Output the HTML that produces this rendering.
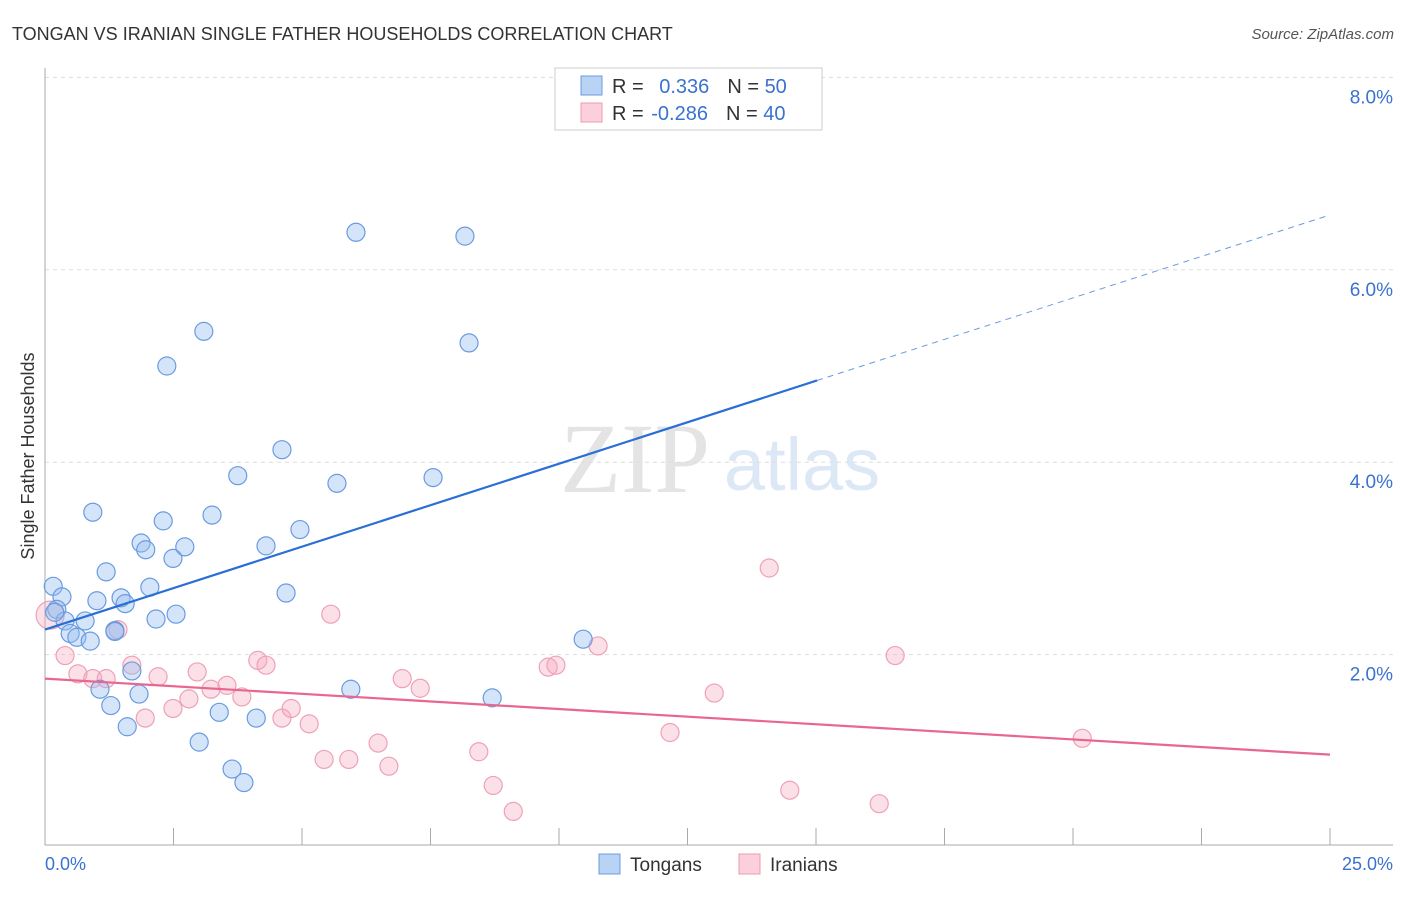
<!DOCTYPE html>
<html><head><meta charset="utf-8"><style>
body{margin:0;background:#fff;font-family:"Liberation Sans",sans-serif;}
</style></head><body>
<svg width="1406" height="892" xmlns="http://www.w3.org/2000/svg" font-family="Liberation Sans, sans-serif">
<text x="12" y="40" font-size="18" fill="#333">TONGAN VS IRANIAN SINGLE FATHER HOUSEHOLDS CORRELATION CHART</text>
<text x="1394" y="39" font-size="15" fill="#555" font-style="italic" text-anchor="end">Source: ZipAtlas.com</text>
<text x="635" y="492" font-size="100" fill="#e4e4e4" font-family="Liberation Serif, serif" text-anchor="middle">ZIP</text>
<text x="802" y="490" font-size="74" fill="#dce8f6" text-anchor="middle">atlas</text>
<g id="grid"></g><g id="axes"></g><g id="pts"></g><g id="lines"></g>
<text transform="translate(34,456) rotate(-90)" font-size="18" fill="#333" text-anchor="middle">Single Father Households</text>
<text x="45" y="870" font-size="18" fill="#3a72d0">0.0%</text>
<text x="1393" y="870" font-size="18" fill="#3a72d0" text-anchor="end">25.0%</text>
<g>
<rect x="555" y="68" width="267" height="62" fill="#fff" stroke="#ccc"/>
<rect x="581" y="76" width="21" height="19" fill="#b8d3f4" stroke="#6a9be0"/>
<rect x="581" y="103" width="21" height="19" fill="#fbd0dc" stroke="#ef9ab2"/>
<text x="612" y="93" font-size="20" fill="#333">R = <tspan fill="#3a72d0" dx="10">0.336</tspan><tspan fill="#333" dx="18">N = </tspan><tspan fill="#3a72d0">50</tspan></text>
<text x="612" y="120" font-size="20" fill="#333">R = <tspan fill="#3a72d0" dx="2">-0.286</tspan><tspan fill="#333" dx="18">N = </tspan><tspan fill="#3a72d0">40</tspan></text>
</g>
<g>
<rect x="599" y="854" width="21" height="20" fill="#b8d3f4" stroke="#6a9be0"/>
<text x="630" y="871" font-size="19" fill="#333">Tongans</text>
<rect x="739" y="854" width="21" height="20" fill="#fbd0dc" stroke="#ef9ab2"/>
<text x="770" y="871" font-size="19" fill="#333">Iranians</text>
</g>
</svg>
<script>
const tonganX=[0.16,0.33,0.23,0.39,0.78,0.49,0.62,0.88,1.01,1.19,0.93,1.48,1.56,1.36,2.04,1.87,1.96,2.30,2.55,2.16,2.49,2.72,3.25,3.75,2.37,3.09,4.61,4.30,4.96,4.69,5.68,6.05,7.55,8.17,8.25,10.47,5.95,8.70,1.69,1.83,1.07,1.28,1.60,3.00,3.39,4.11,3.64,3.87,1.36,0.19];
const tonganY=[2.71,2.60,2.47,2.35,2.35,2.22,2.18,2.14,2.56,2.86,3.48,2.59,2.53,2.25,2.70,3.16,3.09,3.39,2.42,2.37,3.00,3.12,3.45,3.86,5.00,5.36,4.13,3.13,3.30,2.64,3.78,6.39,3.84,6.35,5.24,2.16,1.64,1.55,1.83,1.59,1.64,1.47,1.25,1.09,1.40,1.34,0.81,0.67,2.24,2.44];
const iranianX=[0.10,0.39,0.64,0.93,1.19,1.42,1.69,2.20,1.95,2.49,2.80,2.96,3.23,3.54,3.83,4.14,4.30,4.61,4.79,5.14,5.43,5.56,5.91,6.48,6.69,6.95,7.30,8.44,8.72,9.11,9.79,9.94,10.76,12.16,13.02,14.09,14.49,16.23,16.54,20.18];
const iranianY=[2.41,1.99,1.80,1.75,1.75,2.26,1.89,1.77,1.34,1.44,1.54,1.82,1.64,1.68,1.56,1.94,1.89,1.34,1.44,1.28,0.91,2.42,0.91,1.08,0.84,1.75,1.65,0.99,0.64,0.37,1.87,1.89,2.09,1.19,1.60,2.90,0.59,0.45,1.99,1.13];
const yTicks=[2,4,6,8];
const yTickLabels=["2.0%","4.0%","6.0%","8.0%"];
const xTicks=[0,2.5,5,7.5,10,12.5,15,17.5,20,22.5,25];
const tonganTrend=[2.26,6.57];
const iranianTrend=[1.75,0.96];
const tonganSolidEnd=15.02;
const NS="http://www.w3.org/2000/svg";
const sx=v=>45+v*51.4, sy=v=>847-v*96.2;
function mk(tag,attrs,parent){const e=document.createElementNS(NS,tag);for(const k in attrs)e.setAttribute(k,attrs[k]);document.getElementById(parent).appendChild(e);return e;}
yTicks.forEach((t,i)=>{
 const l=mk('line',{x1:45,x2:1393,y1:sy(t),y2:sy(t),stroke:'#ddd','stroke-dasharray':'4,4'},'grid');
 
 
 const tx=mk('text',{x:1393,y:sy(t)+26,'font-size':19,fill:'#3a72d0','text-anchor':'end'},'grid');
 tx.textContent=yTickLabels[i];
 
 
});
let a=mk('line',{x1:45,x2:45,y1:68,y2:845,stroke:'#aaa'},'axes');


a=mk('line',{x1:45,x2:1393,y1:845,y2:845,stroke:'#aaa'},'axes');


xTicks.forEach(t=>{const l=mk('line',{x1:sx(t),x2:sx(t),y1:828,y2:845,stroke:'#aaa'},'axes');
 
 });
iranianX.forEach((x,i)=>{const c=mk('circle',{cx:sx(x),cy:sy(iranianY[i]),r:i==0?14:9,fill:'rgba(246,166,190,0.35)',stroke:'#efa0b8','stroke-width':1.2},'pts');
 
 });
tonganX.forEach((x,i)=>{const c=mk('circle',{cx:sx(x),cy:sy(tonganY[i]),r:9,fill:'rgba(150,190,240,0.4)',stroke:'#6a9be0','stroke-width':1.2},'pts');
 
 });
const tAt=x=>tonganTrend[0]+(tonganTrend[1]-tonganTrend[0])*x/25;
let ln=mk('line',{x1:sx(0),y1:sy(tAt(0)),x2:sx(tonganSolidEnd),y2:sy(tAt(tonganSolidEnd)),stroke:'#2a6fd6','stroke-width':2.2},'lines');


ln=mk('line',{x1:sx(tonganSolidEnd),y1:sy(tAt(tonganSolidEnd)),x2:sx(25),y2:sy(tAt(25)),stroke:'#6a9be0','stroke-width':1,'stroke-dasharray':'6,5'},'lines');


ln=mk('line',{x1:sx(0),y1:sy(iranianTrend[0]),x2:sx(25),y2:sy(iranianTrend[1]),stroke:'#e8668f','stroke-width':2.2},'lines');


</script>
</body></html>
